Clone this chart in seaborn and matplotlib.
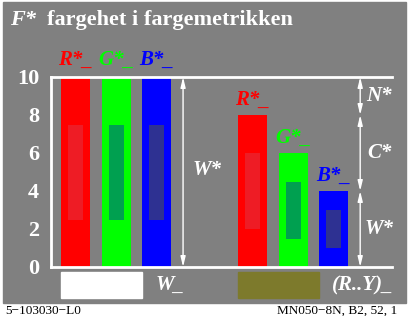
import matplotlib
matplotlib.use("Agg")
import matplotlib.pyplot as plt
import seaborn as sns
from matplotlib.patches import Rectangle

# data
bar_labels = ['R*_', 'G*_', 'B*_', 'R*_', 'G*_', 'B*_']
bar_values = [10, 10, 10, 8, 6, 4]
bar_colors = ['#ff0000', '#00ff00', '#0000ff', '#ff0000', '#00ff00', '#0000ff']
inner_colors = ['#ee1c25', '#00a050', '#2e3192', '#ee1c25', '#00a050', '#2e3192']
yticks = [0, 2, 4, 6, 8, 10]
title = 'fargehet i fargemetrikken'

sns.set_theme(style='white')
plt.rcParams['font.family'] = ['Liberation Serif', 'DejaVu Serif']

fig = plt.figure(figsize=(4.13, 3.16), dpi=100)
fig.patches.append(Rectangle((3 / 413, 1 - 303 / 316), 403 / 413, 301 / 316,
                             transform=fig.transFigure, color='#808080', zorder=-10))

ax = fig.add_axes([51 / 413, 49 / 316, 341 / 413, 190 / 316])
ax.set_facecolor('none')

# x positions: two groups of three bars
xpos = [g * 4.375 + i for g in range(2) for i in range(3)]
names = [f'{l}{k}' for k, l in enumerate(bar_labels)]

sns.barplot(x=xpos, y=bar_values, hue=names, palette=bar_colors, native_scale=True,
            width=0.716, dodge=False, legend=False, ax=ax, saturation=1, zorder=2,
            linewidth=0, edgecolor='none')
inner_h = [v / 2 for v in bar_values]
inner_b = [v / 4 for v in bar_values]
ax.bar(xpos, inner_h, bottom=inner_b, width=0.37, color=inner_colors, zorder=3,
       linewidth=0)

ax.set_xlim(-0.605, 7.81)
ax.set_ylim(0, 10)
ax.set_yticks(yticks)
ax.set_xticks([])
ax.set_xlabel('')
ax.set_ylabel('')
for s in ['top', 'bottom', 'left']:
    ax.spines[s].set_color('white')
    ax.spines[s].set_linewidth(2.0)
ax.spines['right'].set_visible(False)
ax.tick_params(axis='y', direction='inout', length=7, width=1.8, color='white',
               labelcolor='white', labelsize=16, pad=5)
for t in ax.get_yticklabels():
    t.set_fontweight('bold')

# labels above bars
txt = dict(fontweight='bold', fontstyle='italic', fontsize=15, ha='center', va='center')
for k in range(3):
    ax.text(xpos[k], 10.9, bar_labels[k], color=bar_colors[k], clip_on=False, **txt)
for k in range(3, 6):
    ax.text(xpos[k], bar_values[k] + 0.8, bar_labels[k], color=bar_colors[k], **txt)

# arrows
ap = dict(arrowstyle='<|-|>,head_length=0.5,head_width=0.12', color='white', lw=1,
          shrinkA=0, shrinkB=0)
ax.annotate('', xy=(2.654, 10), xytext=(2.654, 0), arrowprops=ap)
ax.text(3.25, 5.1, 'W*', color='white', **txt)
r, g, b = bar_values[3:]
for lo, hi, lab in [(r, 10, 'N*'), (b, r, 'C*'), (0, b, 'W*')]:
    ax.annotate('', xy=(7.025, hi), xytext=(7.025, lo), arrowprops=ap)
    ax.text(7.5, (lo + hi) / 2, lab, color='white', **txt)

# bottom swatches
for k, col, lab, lx in [(0, 'white', 'W_', 2.33), (3, '#7d7a2c', '(R..Y)_', 7.1)]:
    x0 = xpos[k] - 0.358
    ax.add_patch(Rectangle((x0, -0.26), 2.0, -1.37, color=col, clip_on=False, zorder=2))
    ax.text(lx, -0.95, lab, color='white', clip_on=False, **txt)

fig.text(10 / 413, 1 - 20 / 316, 'F*', color='white', fontsize=16, fontweight='bold',
         fontstyle='italic', va='center')
fig.text(47 / 413, 1 - 20 / 316, title, color='white', fontsize=16, fontweight='bold',
         va='center')
fig.text(5 / 413, 1 - 311 / 316, '5\u2212103030\u2212L0', color='black', fontsize=9.5,
         va='center')
fig.text(397 / 413, 1 - 311 / 316, 'MN050\u22128N, B2, 52, 1', color='black', fontsize=9.5,
         va='center', ha='right')

fig.savefig('out.png', dpi=100, facecolor='white')
